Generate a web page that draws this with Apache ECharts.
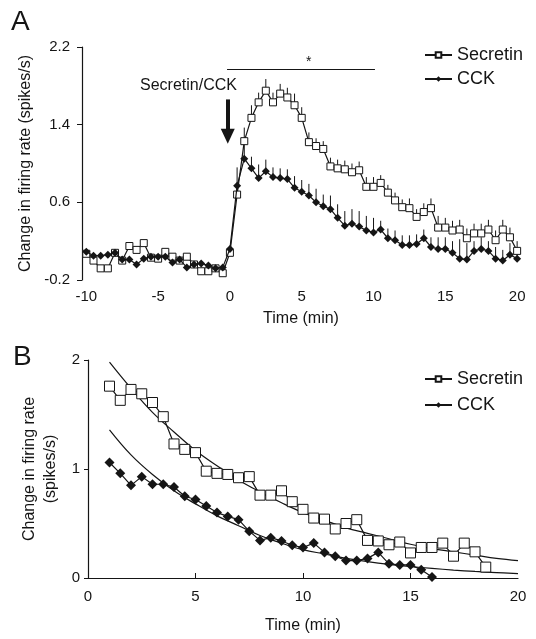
<!DOCTYPE html>
<html>
<head>
<meta charset="utf-8">
<title>Secretin / CCK firing rate</title>
<script src="https://cdn.jsdelivr.net/npm/echarts@6/dist/echarts.min.js"></script>
<style>
  html, body { margin: 0; padding: 0; background: #fff; }
  #chart { width: 536px; height: 639px; }
</style>
</head>
<body>
<div id="chart"></div>
<script>
// ---- panel A : time course, 30 s bins ----
var timeA = [-10, -9.5, -9, -8.5, -8, -7.5, -7, -6.5, -6, -5.5, -5, -4.5, -4, -3.5, -3, -2.5, -2, -1.5, -1, -0.5, 0,
  0.5, 1, 1.5, 2, 2.5, 3, 3.5, 4, 4.5, 5, 5.5, 6, 6.5, 7, 7.5, 8, 8.5, 9, 9.5, 10,
  10.5, 11, 11.5, 12, 12.5, 13, 13.5, 14, 14.5, 15, 15.5, 16, 16.5, 17, 17.5, 18, 18.5, 19, 19.5, 20];
var secretinA = [0.07, 0.00, -0.08, -0.08, 0.08, 0.00, 0.15, 0.11, 0.18, 0.03, 0.02, 0.09, 0.04, 0.00, 0.04, -0.04, -0.11, -0.11, -0.08, -0.13, 0.08,
  0.68, 1.23, 1.47, 1.63, 1.75, 1.63, 1.72, 1.68, 1.60, 1.47, 1.22, 1.18, 1.15, 0.97, 0.95, 0.94, 0.91, 0.93, 0.76, 0.76,
  0.80, 0.70, 0.62, 0.55, 0.54, 0.45, 0.50, 0.54, 0.34, 0.34, 0.31, 0.32, 0.23, 0.28, 0.28, 0.32, 0.21, 0.32, 0.24, 0.10];
var cckA = [0.09, 0.05, 0.05, 0.06, 0.08, 0.01, 0.01, -0.04, 0.02, 0.04, 0.04, 0.04, -0.02, 0.01, -0.07, -0.04, -0.03, -0.05, -0.08, -0.07, 0.12,
  0.77, 1.05, 0.95, 0.85, 0.92, 0.86, 0.85, 0.84, 0.75, 0.71, 0.67, 0.60, 0.56, 0.53, 0.44, 0.36, 0.38, 0.35, 0.31, 0.29,
  0.32, 0.23, 0.21, 0.16, 0.16, 0.17, 0.23, 0.14, 0.12, 0.12, 0.08, 0.02, 0.01, 0.10, 0.12, 0.10, 0.02, 0.00, 0.06, 0.02];
// upper error bars (SEM), only drawn after application
var secretinErrA = [null, null, null, null, null, null, null, null, null, null, null, null, null, null, null, null, null, null, null, null, null,
  0.12, 0.14, 0.13, 0.10, 0.12, 0.10, 0.10, 0.10, 0.12, 0.11, 0.10, 0.08, 0.08, 0.09, 0.09, 0.09, 0.09, 0.09, 0.10, 0.10,
  0.08, 0.08, 0.08, 0.08, 0.10, 0.08, 0.09, 0.10, 0.12, 0.10, 0.10, 0.10, 0.10, 0.10, 0.10, 0.10, 0.10, 0.10, 0.10, 0.10];
var cckErrA = [null, null, null, null, null, null, null, null, null, null, null, null, null, null, null, null, null, null, null, null, null,
  0.19, 0.14, 0.12, 0.14, 0.12, 0.10, 0.10, 0.10, 0.12, 0.12, 0.12, 0.14, 0.12, 0.14, 0.14, 0.15, 0.15, 0.16, 0.15, 0.15,
  0.09, 0.10, 0.10, 0.10, 0.10, 0.10, 0.09, 0.10, 0.12, 0.12, 0.12, 0.20, 0.17, 0.10, 0.12, 0.10, 0.12, 0.11, 0.12, 0.10];
var yTicksA = [-0.2, 0.6, 1.4, 2.2];
var xTicksA = [-10, -5, 0, 5, 10, 15, 20];

// ---- panel B : decay from peak, with exponential fits ----
var timeSecretinB = [1, 1.5, 2, 2.5, 3, 3.5, 4, 4.5, 5, 5.5, 6, 6.5, 7, 7.5, 8, 8.5, 9, 9.5,
  10, 10.5, 11, 11.5, 12, 12.5, 13, 13.5, 14, 14.5, 15, 15.5, 16, 16.5, 17, 17.5, 18, 18.5];
var secretinB = [1.76, 1.63, 1.73, 1.69, 1.61, 1.48, 1.23, 1.18, 1.15, 0.98, 0.96, 0.95, 0.92, 0.93, 0.76, 0.76, 0.80, 0.70,
  0.63, 0.55, 0.54, 0.45, 0.50, 0.535, 0.345, 0.34, 0.305, 0.33, 0.23, 0.28, 0.28, 0.32, 0.20, 0.32, 0.24, 0.10];
var timeCckB = [1, 1.5, 2, 2.5, 3, 3.5, 4, 4.5, 5, 5.5, 6, 6.5, 7, 7.5, 8, 8.5, 9, 9.5,
  10, 10.5, 11, 11.5, 12, 12.5, 13, 13.5, 14, 14.5, 15, 15.5, 16];
var cckB = [1.06, 0.96, 0.85, 0.93, 0.86, 0.86, 0.835, 0.75, 0.72, 0.66, 0.60, 0.565, 0.535, 0.43, 0.345, 0.37, 0.34, 0.30,
  0.28, 0.32, 0.235, 0.20, 0.16, 0.16, 0.18, 0.235, 0.13, 0.12, 0.12, 0.075, 0.01];
var fitTimeB = [1, 2, 3, 4, 5, 6, 7, 8, 9, 10, 11, 12, 13, 14, 15, 16, 17, 18, 19, 20];
var secretinFitB = [1.98, 1.74, 1.52, 1.34, 1.17, 1.03, 0.90, 0.79, 0.69, 0.60, 0.53, 0.46, 0.41, 0.36, 0.31, 0.27, 0.24, 0.21, 0.18, 0.16];
var cckFitB = [1.36, 1.13, 0.95, 0.80, 0.68, 0.57, 0.48, 0.39, 0.32, 0.26, 0.22, 0.18, 0.15, 0.125, 0.105, 0.088, 0.073, 0.06, 0.05, 0.04];

var FONT = 'Liberation Sans';
var INK = '#151515';

function pairs(xs, ys) {
  return xs.map(function (x, i) { return [x, ys[i]]; });
}
function errTriples(xs, ys, es) {
  var out = [];
  xs.forEach(function (x, i) { if (es[i] != null) out.push([x, ys[i], es[i]]); });
  return out;
}
function renderErr(params, api) {
  var x = api.value(0), y = api.value(1), e = api.value(2);
  var p0 = api.coord([x, y]);
  var p1 = api.coord([x, y + e]);
  return {
    type: 'line',
    shape: { x1: p0[0], y1: p0[1], x2: p1[0], y2: p1[1] },
    style: { stroke: INK, lineWidth: 1 }
  };
}

var squareStyle = { color: '#fff', borderColor: INK, borderWidth: 1 };
var diamondStyle = { color: INK };
var lineStyle = { color: INK, width: 1.2 };

var myChart = echarts.init(document.getElementById('chart'));
myChart.setOption({
  animation: false,
  textStyle: { fontFamily: FONT, color: INK },
  title: [
    { text: 'A', left: 6, top: 3, textStyle: { fontFamily: FONT, fontSize: 28, fontWeight: 'normal', color: INK } },
    { text: 'B', left: 8, top: 338, textStyle: { fontFamily: FONT, fontSize: 28, fontWeight: 'normal', color: INK } }
  ],
  legend: [
    {
      data: ['Secretin', 'CCK'], orient: 'vertical', left: 419, top: 41,
      itemWidth: 27, itemHeight: 7, itemGap: 6,
      textStyle: { fontFamily: FONT, fontSize: 18, color: INK }
    },
    {
      data: ['Secretin', 'CCK'], orient: 'vertical', left: 419, top: 365,
      itemWidth: 27, itemHeight: 7, itemGap: 8,
      textStyle: { fontFamily: FONT, fontSize: 18, color: INK }
    }
  ],
  graphic: [
    { type: 'text', left: 140, top: 78, style: { text: 'Secretin/CCK', font: '16px ' + FONT, fill: INK } },
    { type: 'text', left: 306, top: 55, style: { text: '*', font: '14px ' + FONT, fill: INK } }
  ],
  grid: [
    { left: 82, top: 47, width: 438, height: 233 },
    { left: 88, top: 360, width: 430, height: 218 }
  ],
  xAxis: [
    {
      gridIndex: 0, type: 'value', min: -10.3, max: 20.2,
      name: 'Time (min)', nameLocation: 'middle', nameGap: 31,
      nameTextStyle: { fontFamily: FONT, fontSize: 16, color: INK },
      axisLine: { show: false, onZero: false },
      axisTick: { show: false },
      splitLine: { show: false },
      axisLabel: { customValues: xTicksA, margin: 9, fontFamily: FONT, fontSize: 15, color: INK }
    },
    {
      gridIndex: 1, type: 'value', min: 0, max: 20, interval: 5,
      name: 'Time (min)', nameLocation: 'middle', nameGap: 40,
      nameTextStyle: { fontFamily: FONT, fontSize: 16, color: INK },
      axisLine: { onZero: false, lineStyle: { color: INK, width: 1.2 } },
      axisTick: { inside: true, length: 5, customValues: [5, 10, 15], lineStyle: { color: INK } },
      splitLine: { show: false },
      axisLabel: { margin: 11, fontFamily: FONT, fontSize: 15, color: INK }
    }
  ],
  yAxis: [
    {
      gridIndex: 0, type: 'value', min: -0.2, max: 2.2,
      name: 'Change in firing rate (spikes/s)', nameLocation: 'middle', nameGap: 41, nameRotate: 90,
      nameTextStyle: { fontFamily: FONT, fontSize: 16, color: INK },
      axisLine: { show: true, onZero: false, lineStyle: { color: INK, width: 1.2 } },
      axisTick: { show: true, length: 5, customValues: yTicksA, lineStyle: { color: INK } },
      splitLine: { show: false },
      axisLabel: { customValues: yTicksA, margin: 12, fontFamily: FONT, fontSize: 15, color: INK }
    },
    {
      gridIndex: 1, type: 'value', min: 0, max: 2, interval: 1,
      name: 'Change in firing rate\n(spikes/s)', nameLocation: 'middle', nameGap: 19, nameRotate: 90,
      nameTextStyle: { fontFamily: FONT, fontSize: 16, color: INK, lineHeight: 21 },
      axisLine: { show: true, onZero: false, lineStyle: { color: INK, width: 1.2 } },
      axisTick: { show: true, length: 4, lineStyle: { color: INK } },
      splitLine: { show: false },
      axisLabel: { margin: 8, fontFamily: FONT, fontSize: 15, color: INK }
    }
  ],
  series: [
    // error bars first so the markers sit on top
    {
      type: 'custom', name: 'Secretin SEM', xAxisIndex: 0, yAxisIndex: 0, z: 1,
      renderItem: renderErr, encode: { x: 0, y: 1 },
      data: errTriples(timeA, secretinA, secretinErrA)
    },
    {
      type: 'custom', name: 'CCK SEM', xAxisIndex: 0, yAxisIndex: 0, z: 1,
      renderItem: renderErr, encode: { x: 0, y: 1 },
      data: errTriples(timeA, cckA, cckErrA)
    },
    {
      type: 'line', name: 'Secretin', xAxisIndex: 0, yAxisIndex: 0, z: 3,
      data: pairs(timeA, secretinA),
      symbol: 'rect', symbolSize: 7, showAllSymbol: true,
      itemStyle: squareStyle, lineStyle: lineStyle,
      markLine: {
        silent: true, animation: false,
        label: { show: false },
        data: [
          [{ yAxis: 0, symbol: 'none', lineStyle: { color: INK, width: 1.2, type: 'solid' } },
           { yAxis: 0, symbol: 'none' }],
          [{ coord: [-0.2, 1.97], symbol: 'none', lineStyle: { color: INK, width: 1.2, type: 'solid' } },
           { coord: [10.1, 1.97], symbol: 'none' }],
          [{ coord: [-0.15, 1.66], symbol: 'none', lineStyle: { color: INK, width: 4, type: 'solid' } },
           { coord: [-0.15, 1.28], symbol: 'triangle', symbolSize: [14, 15] }]
        ]
      }
    },
    {
      type: 'line', name: 'CCK', xAxisIndex: 0, yAxisIndex: 0, z: 4,
      data: pairs(timeA, cckA),
      symbol: 'diamond', symbolSize: 8, showAllSymbol: true,
      itemStyle: diamondStyle, lineStyle: lineStyle
    },
    // panel B
    {
      type: 'line', name: 'Secretin fit', xAxisIndex: 1, yAxisIndex: 1, z: 2,
      data: pairs(fitTimeB, secretinFitB), smooth: 0.4, symbol: 'none',
      lineStyle: { color: INK, width: 1.2 }
    },
    {
      type: 'line', name: 'CCK fit', xAxisIndex: 1, yAxisIndex: 1, z: 2,
      data: pairs(fitTimeB, cckFitB), smooth: 0.4, symbol: 'none',
      lineStyle: { color: INK, width: 1.2 }
    },
    {
      type: 'line', name: 'Secretin', xAxisIndex: 1, yAxisIndex: 1, z: 3,
      data: pairs(timeSecretinB, secretinB),
      symbol: 'rect', symbolSize: 10, showAllSymbol: true,
      itemStyle: squareStyle, lineStyle: lineStyle
    },
    {
      type: 'line', name: 'CCK', xAxisIndex: 1, yAxisIndex: 1, z: 4,
      data: pairs(timeCckB, cckB),
      symbol: 'diamond', symbolSize: 10, showAllSymbol: true,
      itemStyle: diamondStyle, lineStyle: lineStyle
    }
  ]
});
</script>
</body>
</html>
